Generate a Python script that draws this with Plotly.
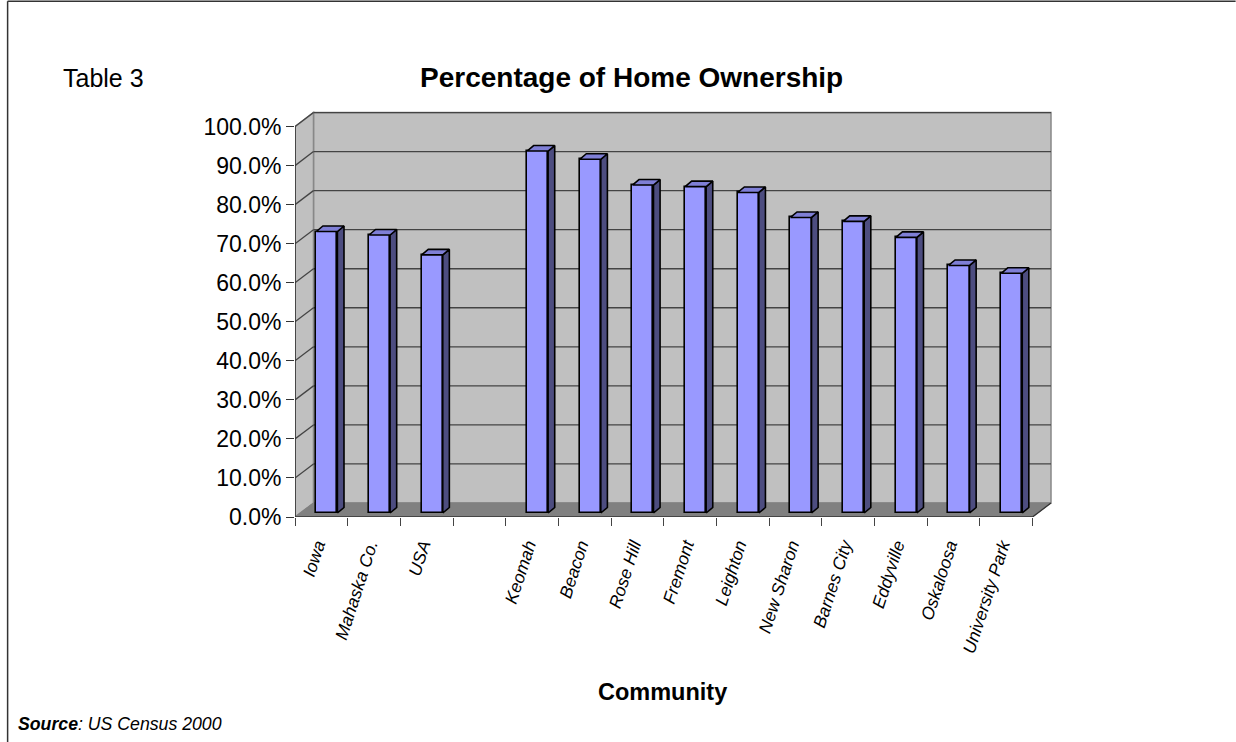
import plotly.graph_objects as go

# ---------------- data ----------------
categories = ["Iowa", "Mahaska Co.", "USA", "", "Keomah", "Beacon", "Rose Hill",
              "Fremont", "Leighton", "New Sharon", "Barnes City", "Eddyville",
              "Oskaloosa", "University Park"]
ownership = [0.721, 0.712, 0.661, None, 0.927, 0.906, 0.840,
             0.836, 0.821, 0.757, 0.747, 0.706, 0.634, 0.614]
y_tickvals = [0.0, 0.1, 0.2, 0.3, 0.4, 0.5, 0.6, 0.7, 0.8, 0.9, 1.0]
y_ticktext = ["0.0%", "10.0%", "20.0%", "30.0%", "40.0%", "50.0%",
              "60.0%", "70.0%", "80.0%", "90.0%", "100.0%"]

# ---------------- geometry (pseudo-3D) ----------------
W, H = 1236, 742
PX_X = 52.7      # px per category
PX_Y = 390.0     # px per 100%
ZERO_Y = 516.7   # px of 0% on front edge
LEFT = 295.0     # px of front axis
X0, X1 = -0.5, 13.87
Y0, Y1 = 0.0, 1.045
PW = (X1 - X0) * PX_X
PH = (Y1 - Y0) * PX_Y
M_L = LEFT
M_R = W - LEFT - PW
M_B = H - ZERO_Y
M_T = ZERO_Y - PH

WALL_DX = 18.5 / PX_X
WALL_DY = 14.0 / PX_Y
BAR_DX = 6.6 / PX_X
BAR_DY = 5.5 / PX_Y
BAR_BASE = 4.0 / PX_Y
BAR_W = 0.40
BAR_OFF = -0.095
LABEL_SHIFT = -0.08

n = len(categories)
pos = list(range(n))
bx = [p for p, v in zip(pos, ownership) if v is not None]
bv = [v for v in ownership if v is not None]


def px2paper_x(px):
    return (px - M_L) / PW


def px2paper_y(py):
    return (H - py - M_B) / PH


fig = go.Figure()

# front faces
fig.add_trace(go.Bar(
    x=bx, y=bv, base=BAR_BASE, width=BAR_W, offset=BAR_OFF,
    marker=dict(color="#9999FF", line=dict(color="#000000", width=1.6)),
    hoverinfo="skip", showlegend=False))

# side and top faces
sx, sy, tx, ty = [], [], [], []
for p, v in zip(bx, bv):
    xl = p + BAR_OFF
    xr = xl + BAR_W
    top = v + BAR_BASE
    sx += [xr, xr + BAR_DX, xr + BAR_DX, xr, xr, None]
    sy += [BAR_BASE, BAR_BASE + BAR_DY, top + BAR_DY, top, BAR_BASE, None]
    tx += [xl, xr, xr + BAR_DX, xl + BAR_DX, xl, None]
    ty += [top, top, top + BAR_DY, top + BAR_DY, top, None]

fig.add_trace(go.Scatter(x=sx, y=sy, mode="lines", fill="toself",
                         fillcolor="#4D4D80", line=dict(color="#000000", width=1.6),
                         hoverinfo="skip", showlegend=False))
fig.add_trace(go.Scatter(x=tx, y=ty, mode="lines", fill="toself",
                         fillcolor="#7F7FD6", line=dict(color="#000000", width=1.6),
                         hoverinfo="skip", showlegend=False))

shapes = []
bwx0, bwx1 = X0 + WALL_DX, 13.5 + WALL_DX
# back wall
shapes.append(dict(type="rect", xref="x", yref="y", x0=bwx0, x1=bwx1,
                   y0=WALL_DY, y1=1 + WALL_DY, fillcolor="#C0C0C0",
                   line=dict(color="#888888", width=1.5), layer="below"))
# left wall
shapes.append(dict(type="path", xref="x", yref="y",
                   path=f"M {X0},0 L {bwx0},{WALL_DY} L {bwx0},{1 + WALL_DY} L {X0},1 Z",
                   fillcolor="#C0C0C0", line=dict(color="#888888", width=1.5), layer="below"))
# gridlines
for t in y_tickvals[1:]:
    shapes.append(dict(type="line", xref="x", yref="y", x0=bwx0, x1=bwx1,
                       y0=t + WALL_DY, y1=t + WALL_DY,
                       line=dict(color="#444444", width=1.3), layer="below"))
    shapes.append(dict(type="line", xref="x", yref="y", x0=X0, x1=bwx0,
                       y0=t, y1=t + WALL_DY,
                       line=dict(color="#444444", width=1.3), layer="below"))
# floor
shapes.append(dict(type="path", xref="x", yref="y",
                   path=f"M {X0},0 L 13.5,0 L {bwx1},{WALL_DY} L {bwx0},{WALL_DY} Z",
                   fillcolor="#808080", line=dict(color="#808080", width=1), layer="below"))
# front edges
shapes.append(dict(type="line", xref="x", yref="y", x0=X0, x1=X0, y0=0, y1=1,
                   line=dict(color="#333333", width=1.6), layer="below"))
shapes.append(dict(type="line", xref="x", yref="y", x0=X0, x1=13.5, y0=0, y1=0,
                   line=dict(color="#333333", width=1.6), layer="below"))
shapes.append(dict(type="line", xref="x", yref="y", x0=13.5, x1=bwx1, y0=0, y1=WALL_DY,
                   line=dict(color="#333333", width=1.3), layer="below"))
# page frame
shapes.append(dict(type="line", xref="paper", yref="paper",
                   x0=px2paper_x(7.5), x1=px2paper_x(7.5), y0=px2paper_y(1.5), y1=px2paper_y(742),
                   line=dict(color="#333333", width=1.5)))
shapes.append(dict(type="line", xref="paper", yref="paper",
                   x0=px2paper_x(7.5), x1=px2paper_x(1236), y0=px2paper_y(1.5), y1=px2paper_y(1.5),
                   line=dict(color="#333333", width=1.5)))

FONT = "Liberation Sans, Arial, sans-serif"
annotations = [
    dict(text="<b>Percentage of Home Ownership</b>", x=px2paper_x(632), y=px2paper_y(78),
         xref="paper", yref="paper", xanchor="center", yanchor="middle", showarrow=False,
         font=dict(family=FONT, size=28, color="#000000")),
    dict(text="Table 3", x=px2paper_x(61), y=px2paper_y(78),
         xref="paper", yref="paper", xanchor="left", yanchor="middle", showarrow=False,
         font=dict(family=FONT, size=25, color="#000000")),
    dict(text="<b>Community</b>", x=px2paper_x(663), y=px2paper_y(692),
         xref="paper", yref="paper", xanchor="center", yanchor="middle", showarrow=False,
         font=dict(family=FONT, size=23.5, color="#000000")),
    dict(text="<b><i>Source</i></b><i>: US Census 2000</i>", x=px2paper_x(16), y=px2paper_y(723),
         xref="paper", yref="paper", xanchor="left", yanchor="middle", showarrow=False,
         font=dict(family=FONT, size=17.7, color="#000000")),
]

fig.update_layout(
    width=W, height=H,
    margin=dict(l=M_L, r=M_R, t=M_T, b=M_B, pad=0, autoexpand=False),
    paper_bgcolor="#FFFFFF", plot_bgcolor="#FFFFFF",
    shapes=shapes, annotations=annotations,
    bargap=0, showlegend=False,
    font=dict(family=FONT, color="#000000"),
    xaxis=dict(range=[X0, X1], tickmode="array", tickvals=[p + LABEL_SHIFT for p in pos],
               ticktext=categories,
               tickangle=-72, ticks="outside", ticklen=8, tickcolor="rgba(0,0,0,0)",
               ticklabelstandoff=2,
               tickfont=dict(family=FONT, size=17.5, color="#000000", style="italic"),
               showgrid=False, zeroline=False, showline=False,
               minor=dict(tickmode="array", tickvals=[p - 0.5 for p in pos] + [n - 0.5],
                          ticks="outside", ticklen=8, tickcolor="#444444", tickwidth=1.3,
                          showgrid=False)),
    yaxis=dict(range=[Y0, Y1], tickmode="array", tickvals=y_tickvals, ticktext=y_ticktext,
               ticks="outside", ticklen=8, tickcolor="#333333", tickwidth=1.3,
               tickfont=dict(family=FONT, size=23, color="#000000"),
               showgrid=False, zeroline=False, showline=False),
)

fig.write_html("out.html",
               config={"displayModeBar": False},
               post_script="document.body.style.margin='0';document.body.style.overflow='hidden';")
